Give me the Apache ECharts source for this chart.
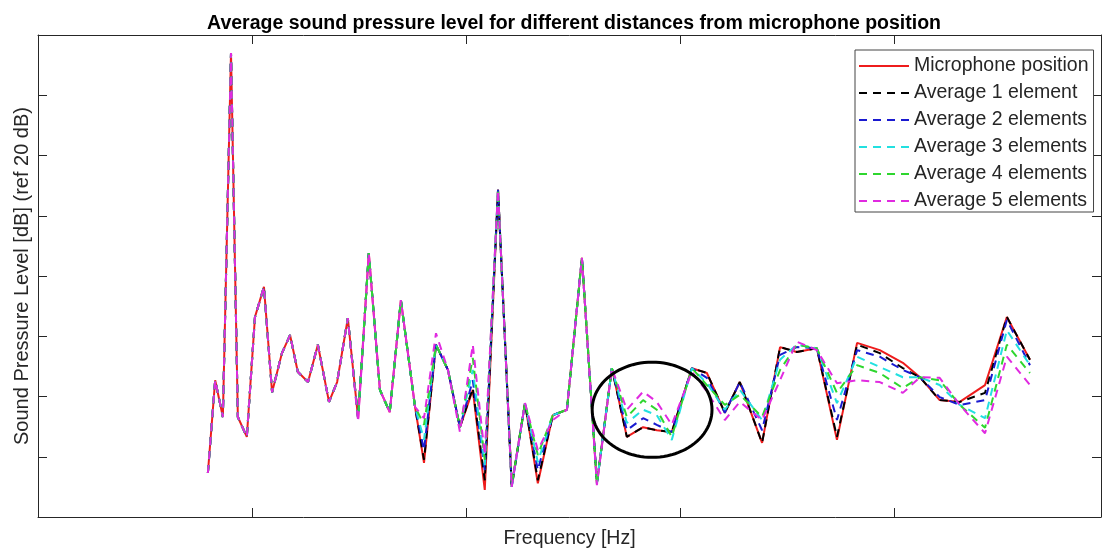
<!DOCTYPE html>
<html><head><meta charset="utf-8">
<script src="https://cdn.jsdelivr.net/npm/echarts@6/dist/echarts.min.js"></script>
<style>html,body{margin:0;padding:0;background:#fff}#c{width:1102px;height:549px}</style>
</head><body><div id="c"></div>
<script>
// Frequency positions (Hz, arbitrary scale: axis ticks every 50 units)
const freq = [39.7,41.4,43.2,45.1,46.7,48.8,50.7,52.8,54.7,57.0,
  58.9,60.7,63.1,65.4,68.0,69.9,72.4,74.8,77.3,79.9,
  82.2,84.8,88.1,90.2,93.0,95.8,98.6,101.6,104.4,107.5,
  110.7,113.8,116.8,120.3,123.6,127.1,130.6,134.1,137.6,141.4,
  144.6,148.1,152.8,156.3,160.5,164.0,169.2,173.4,177.3,182.0,
  186.7,191.4,196.7,202.1,206.1,210.7,215.4,221.3,226.4,231.8];

const micPosition = [7.3,22.7,16.6,77.0,16.6,13.3,33.2,38.2,20.7,27.2,
  30.2,24.1,22.4,28.6,19.1,22.4,33.0,16.4,43.8,21.1,
  17.4,36.0,18.3,9.0,28.6,24.4,14.9,21.1,4.5,54.3,
  5.3,18.9,5.6,16.9,17.8,43.0,5.6,24.7,13.3,14.9,
  14.4,14.1,24.7,23.9,17.3,22.4,12.3,28.2,27.4,28.0,
  12.8,28.9,27.7,25.6,23.2,19.4,19.1,21.9,33.2,26.1];

const avg1 = [7.3,22.7,16.6,77.0,16.6,13.3,33.2,38.2,20.7,27.2,
  30.2,24.1,22.4,28.6,19.1,22.4,33.0,16.4,43.8,21.1,
  17.4,36.0,18.3,9.5,28.6,24.4,14.9,21.4,6.1,54.3,
  5.0,18.9,6.1,16.9,17.8,43.0,5.6,24.7,13.3,14.9,
  14.4,14.1,24.7,23.9,17.3,22.4,12.3,28.2,27.4,28.0,
  13.3,28.6,27.2,24.7,23.2,19.4,19.1,20.6,33.2,26.1];

const avg2 = [7.3,22.7,16.6,77.0,16.6,13.3,33.2,38.2,20.7,27.2,
  30.2,24.1,22.4,28.6,19.1,22.4,33.0,16.4,43.8,21.1,
  17.4,36.0,18.3,11.1,28.6,24.4,14.9,22.7,7.8,54.3,
  5.0,18.9,7.8,16.9,17.8,43.0,5.6,24.7,14.4,16.4,
  15.3,14.1,24.7,23.1,17.3,22.4,14.4,26.9,28.2,28.0,
  16.1,27.7,26.6,24.4,23.2,19.9,18.6,19.4,32.7,25.2];

const avg3 = [7.3,22.7,16.6,77.0,16.6,13.3,33.2,38.2,20.7,27.2,
  30.2,24.1,22.4,28.6,19.1,22.4,33.0,16.4,43.8,21.1,
  17.4,36.0,18.3,12.8,28.6,24.4,14.9,24.4,8.6,54.3,
  5.0,18.9,9.1,16.9,17.8,43.0,5.6,24.7,15.6,17.8,
  16.9,12.8,24.7,22.2,17.8,21.1,16.1,26.1,28.6,28.0,
  18.9,26.6,24.9,23.2,23.2,21.9,18.6,16.4,31.0,25.2];

const avg4 = [7.3,22.7,16.6,77.0,16.6,13.3,33.2,38.2,20.7,27.2,
  30.2,24.1,22.4,28.6,19.1,22.4,33.0,16.4,43.8,21.1,
  17.4,36.0,18.3,15.3,28.6,24.4,14.9,26.4,9.5,54.3,
  5.3,18.9,10.3,16.9,17.8,43.0,5.6,24.7,16.6,19.4,
  17.8,13.3,24.7,21.9,18.6,20.3,16.6,24.4,28.6,28.0,
  20.6,25.2,23.9,21.4,23.2,22.7,18.6,14.8,28.6,23.9];

const avg5 = [7.3,22.7,16.6,77.0,16.6,13.3,33.2,38.2,20.7,27.2,
  30.2,24.1,22.4,28.6,19.1,22.4,33.0,15.8,43.8,21.1,
  17.4,36.0,18.3,16.4,30.5,24.4,14.1,28.6,10.3,54.3,
  5.0,18.9,11.1,16.1,17.8,43.0,5.3,24.7,17.8,20.8,
  19.1,15.3,24.1,20.8,16.1,19.1,16.1,22.7,29.1,27.7,
  22.2,22.7,22.4,20.6,23.2,23.1,18.6,13.9,26.6,21.9];

// Highlight ellipse annotation: [centerFreq, centerLevel, radiusFreq, radiusLevel]
const highlight = [[143.5, 17.8, 14.0, 7.9]];

const seriesNames = ['Microphone position','Average 1 element','Average 2 elements',
  'Average 3 elements','Average 4 elements','Average 5 elements'];
const seriesData = [micPosition, avg1, avg2, avg3, avg4, avg5];
const seriesColors = ['#ee1c1c','#000000','#1a1ad0','#22e0e0','#2ed62e','#e02ae0'];

const FONT = '"Liberation Sans", Arial, Helvetica, sans-serif';
const AX = '#262626';

function pairs(ys){ return freq.map((f,i)=>[f, ys[i]]); }

const series = seriesNames.map((name, k) => ({
  name, type: 'line', data: pairs(seriesData[k]),
  showSymbol: false, symbol: 'none', animation: false,
  lineStyle: { color: seriesColors[k], width: 2, type: k === 0 ? 'solid' : [8, 6] },
  itemStyle: { color: seriesColors[k] },
  z: 2 + k
}));

series.push({
  type: 'custom', name: 'highlight', data: highlight, animation: false, z: 20,
  renderItem: function(params, api){
    const c = api.coord([api.value(0), api.value(1)]);
    const s = api.size([api.value(2), api.value(3)]);
    const pts = [];
    for (let i = 0; i <= 96; i++) {
      const t = i / 96 * Math.PI * 2;
      pts.push([c[0] + s[0]*Math.cos(t), c[1] + s[1]*Math.sin(t)]);
    }
    return { type: 'polyline', shape: { points: pts },
      style: { stroke: '#000', lineWidth: 3, fill: null } };
  }
});

const axisCommon = {
  axisLine: { show: true, onZero: false, lineStyle: { color: AX, width: 1 } },
  axisTick: { show: true, inside: true, length: 9, lineStyle: { color: AX, width: 1 } },
  axisLabel: { show: false },
  splitLine: { show: false }
};

const chart = echarts.init(document.getElementById('c'), null, { renderer: 'canvas' });
chart.setOption({
  animation: false,
  backgroundColor: '#ffffff',
  textStyle: { fontFamily: FONT },
  title: {
    text: 'Average sound pressure level for different distances from microphone position',
    left: 569, top: 9, textAlign: 'center',
    textStyle: { fontFamily: FONT, fontWeight: 'bold', fontSize: 19.5, color: '#000' }
  },
  grid: { left: 38, right: 1, top: 35, bottom: 32, containLabel: false, outerBoundsMode: 'none' },
  xAxis: [
    Object.assign({ type: 'value', min: 0, max: 248.4, interval: 50, position: 'bottom',
      name: 'Frequency [Hz]', nameLocation: 'middle', nameGap: 12,
      nameTextStyle: { fontFamily: FONT, fontSize: 19.5, color: AX } }, axisCommon),
    Object.assign({ type: 'value', min: 0, max: 248.4, interval: 50, position: 'top' }, axisCommon)
  ],
  yAxis: [
    Object.assign({ type: 'value', min: 0, max: 80, interval: 10, position: 'left',
      name: 'Sound Pressure Level [dB] (ref 20 dB)', nameLocation: 'middle', nameGap: 6,
      nameTextStyle: { fontFamily: FONT, fontSize: 20, color: AX } }, axisCommon),
    Object.assign({ type: 'value', min: 0, max: 80, interval: 10, position: 'right' }, axisCommon)
  ],
  legend: {
    data: seriesNames, orient: 'vertical', left: 855, top: 50,
    itemWidth: 50, itemHeight: 14, itemGap: 7,
    padding: [6, 5, 1, 3],
    itemStyle: { opacity: 0, borderWidth: 0 },
    backgroundColor: '#fff', borderColor: '#444', borderWidth: 1, borderRadius: 0,
    textStyle: { fontFamily: FONT, fontSize: 19.5, lineHeight: 20, color: AX },
    selectedMode: false
  },
  series: series
});
</script></body></html>
